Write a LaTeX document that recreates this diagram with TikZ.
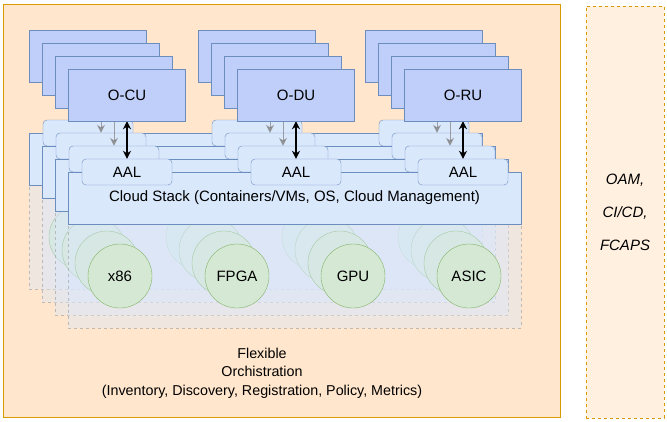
\documentclass[tikz,border=0pt]{standalone}
\usepackage{fontspec}
\setmainfont{Liberation Sans}
\usetikzlibrary{arrows.meta}
\definecolor{orfill}{HTML}{FFE6CC}
\definecolor{orline}{HTML}{D79B00}
\definecolor{funcfill}{HTML}{C0CFFA}
\definecolor{stackfill}{HTML}{DAE8FC}
\definecolor{blueline}{HTML}{6C8EBF}
\definecolor{chipfill}{HTML}{D5E8D4}
\definecolor{chipline}{HTML}{82B366}
\definecolor{hwline}{HTML}{A6A6A6}
\pgfdeclarelayer{top}
\pgfsetlayers{main,top}

\begin{document}
\begin{tikzpicture}[x=1pt,y=-1pt,
  lbl/.style={font=\fontsize{15}{18}\selectfont},
  func/.style={lbl,draw=blueline,fill=funcfill,minimum width=117pt,minimum height=52pt,inner sep=0pt},
  aal/.style={lbl,draw=blueline,fill=stackfill,rounded corners=4pt,minimum width=90pt,minimum height=26pt,inner sep=0pt},
  stack/.style={lbl,draw=blueline,fill=stackfill,minimum width=453pt,minimum height=52pt,inner sep=0pt},
  hw/.style={draw=hwline,draw opacity=0.7,dash pattern=on 3pt off 3pt,fill=stackfill,fill opacity=0.42,minimum width=453pt,minimum height=156pt},
  chip/.style={lbl,circle,draw=chipline,fill=chipfill,minimum size=64pt,inner sep=0pt},
  link/.style={{Stealth[length=8pt,width=8pt]}-{Stealth[length=8pt,width=8pt]},line width=1.3pt}]
\useasboundingbox (0,0) rectangle (667,421);
\node (orch) [draw=orline,fill=orfill,minimum width=557pt,minimum height=413pt] at (281.5,210.5) {};
\node (oam) [draw=orline,dash pattern=on 3pt off 3pt,fill=orfill!60,minimum width=78pt,minimum height=412pt,
  font=\fontsize{15}{18}\selectfont\itshape,align=center] at (625,212) {OAM,\\[15pt]CI/CD,\\[15pt]FCAPS};
% hardware layers
\foreach \i in {0,1,2} {
  \node[hw] (hw\i) at (255.5+13*\i,211+13*\i) {};
  \foreach \dx/\n in {0/x,117/f,233/g,349/a}
    \node[chip] (\n\i) at (81+\dx+13*\i,237+13*\i) {};
}
\node[hw] (hw3) at (294.5,250) {};
\node[chip] (x86) at (120,276) {x86};
\node[chip] (fpga) at (237,276) {FPGA};
\node[chip] (gpu) at (353,276) {GPU};
\node[chip] (asic) at (469,276) {ASIC};
% cloud stack layers
\foreach \i in {0,1,2} {
  \node[stack] (st\i) at (255.5+13*\i,159+13*\i) {};
  \foreach \dx/\n in {0/cu,169/du,336/ru}
    \node[aal] (aal\n\i) at (88+\dx+13*\i,133+13*\i) {};
}
\node[stack] (cloud) at (294.5,198) {Cloud Stack (Containers/VMs, OS, Cloud Management)};
\node[aal] (aalcu) at (127,172) {AAL};
\node[aal] (aaldu) at (296,172) {AAL};
\node[aal] (aalru) at (463,172) {AAL};
% network functions
\begin{pgfonlayer}{top}
\foreach \i in {0,1,2}
  \foreach \dx/\n in {0/cu,169/du,336/ru}
    \node[func] (\n\i) at (88+\dx+13*\i,56+13*\i) {};
\node[func] (cu) at (127,95) {O-CU};
\node[func] (du) at (296,95) {O-DU};
\node[func] (ru) at (463,95) {O-RU};
\end{pgfonlayer}
\foreach \i in {0,1,2}
  \foreach \n in {cu,du,ru}
    \draw[link,gray,line width=1pt,opacity=0.7] (\n\i.south) -- (aal\n\i.north);
\draw[link] (cu.south) -- (aalcu.north);
\draw[link] (du.south) -- (aaldu.north);
\draw[link] (ru.south) -- (aalru.north);
\node (flex) [font=\fontsize{14.3}{18.5}\selectfont,align=center] at (262,373)
  {Flexible\\Orchistration\\(Inventory, Discovery, Registration, Policy, Metrics)};
\end{tikzpicture}
\end{document}
